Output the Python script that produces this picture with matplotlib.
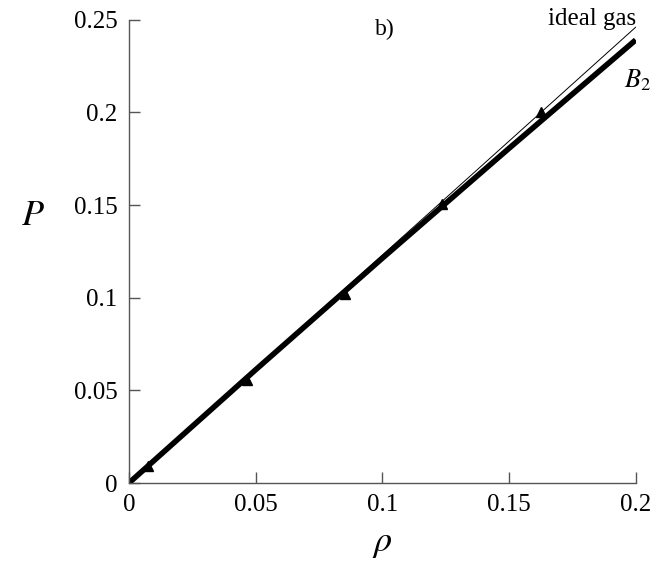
import matplotlib
matplotlib.use("Agg")
import matplotlib.pyplot as plt

# data
rho_ideal = [0.0, 0.2]
P_ideal = [0.0, 0.246]
rho_b2 = [0.0, 0.05, 0.1, 0.15, 0.2]
P_b2 = [0.0, 0.0611, 0.1213, 0.1806, 0.2391]
rho_sim = [0.0075, 0.0465, 0.0852, 0.1235, 0.1625]
P_sim = [0.0092, 0.0556, 0.1020, 0.1507, 0.2003]
xticks = [0, 0.05, 0.1, 0.15, 0.2]
xticklabels = ["0", "0.05", "0.1", "0.15", "0.2"]
yticks = [0, 0.05, 0.1, 0.15, 0.2, 0.25]
yticklabels = ["0", "0.05", "0.1", "0.15", "0.2", "0.25"]

plt.rcParams['font.family'] = ['Liberation Serif', 'DejaVu Serif']
plt.rcParams['mathtext.fontset'] = 'stix'

fig = plt.figure(figsize=(6.54, 5.65), dpi=100)
ax = fig.add_axes([0.197, 0.145, 0.775, 0.82])

ax.plot(rho_b2, P_b2, color='black', lw=4.0, solid_capstyle='butt')
ax.plot(rho_ideal, P_ideal, color='black', lw=0.7)
ax.plot(rho_sim, P_sim, linestyle='none', marker='^', color='black', markersize=6.5)

ax.set_xlim(0, 0.2)
ax.set_ylim(0, 0.25)
ax.set_xticks(xticks)
ax.set_xticklabels(xticklabels)
ax.set_yticks(yticks)
ax.set_yticklabels(yticklabels)
for s in ['top', 'right']:
    ax.spines[s].set_visible(False)
for s in ['left', 'bottom']:
    ax.spines[s].set_color('#555555')
    ax.spines[s].set_linewidth(1.0)
ax.tick_params(direction='in', length=8, width=1, color='#555555', labelsize=18, pad=8)

ax.set_xlabel(r'$\rho$', fontsize=26, labelpad=8)
ax.set_ylabel(r'$P$', fontsize=26, rotation=0, va='center', ha='center')
ax.yaxis.set_label_coords(-0.19, 0.575)

ax.text(0.101, 0.245, 'b)', fontsize=17, ha='center', va='center')
ax.text(0.2, 0.2505, 'ideal gas', fontsize=18, ha='right', va='center')
ax.text(0.1955, 0.2175, r'$B_{\rm 2}$', fontsize=19, ha='left', va='center')

fig.savefig('out.png', dpi=100)
